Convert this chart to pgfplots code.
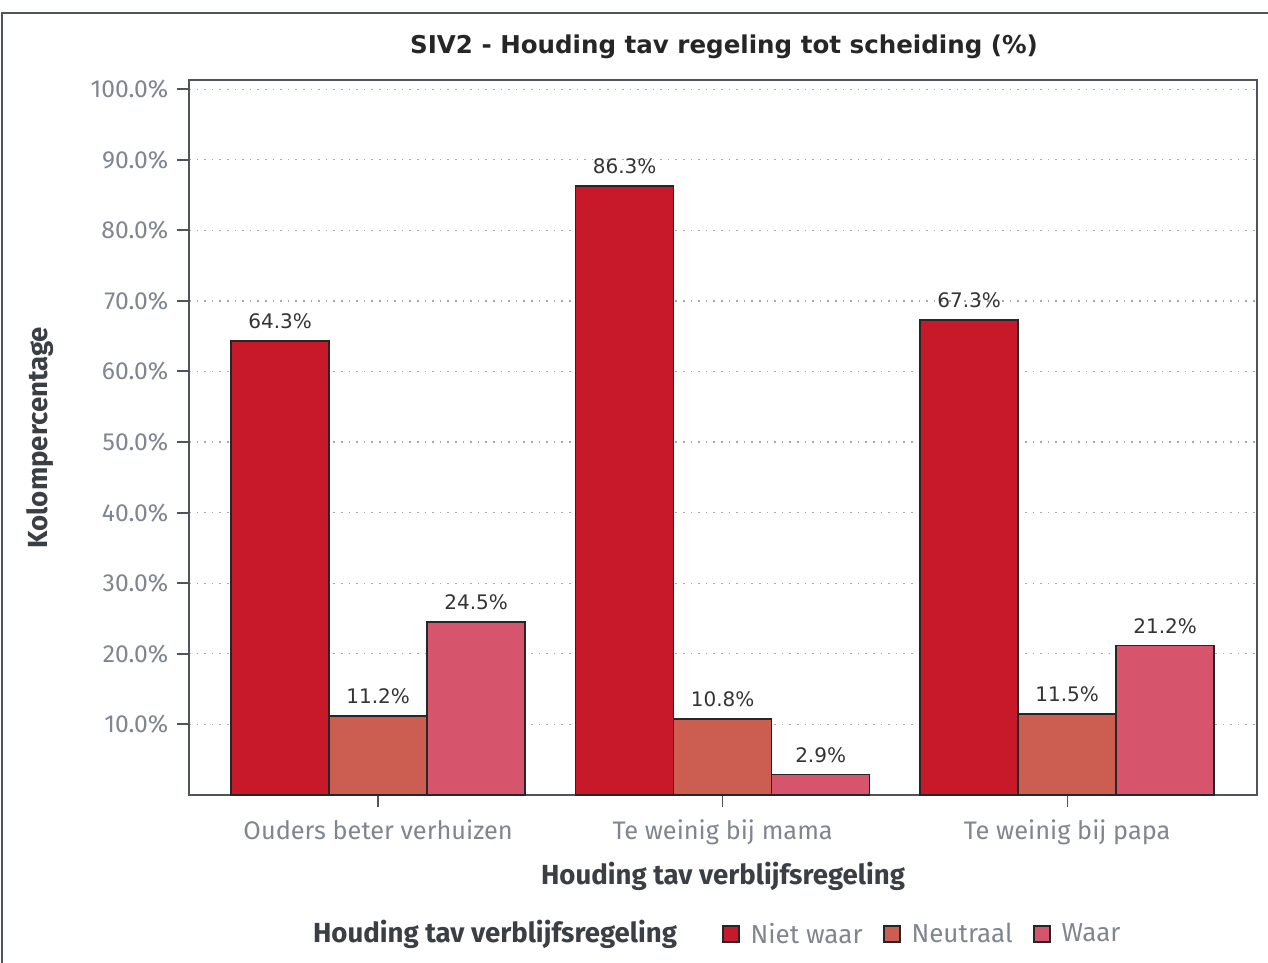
\documentclass[border=0pt]{standalone}
\usepackage{fontspec}
\setmainfont{Fira Sans}
\newfontfamily\dejavu{DejaVu Sans}
\usepackage{pgfplots}
\pgfplotsset{compat=1.18}
\definecolor{cNiet}{HTML}{C8192A}
\definecolor{cNeut}{HTML}{CB5E50}
\definecolor{cWaar}{HTML}{D6556C}
\definecolor{axisgray}{HTML}{50555C}
\definecolor{tickgray}{HTML}{80868F}
\definecolor{labgray}{HTML}{3A3F45}
\definecolor{gridgray}{HTML}{A8A8A8}
\begin{document}
\begin{tikzpicture}
\useasboundingbox (0,0) rectangle (951pt,722.25pt);
\draw[axisgray, line width=1.5pt] (1.5pt,0) -- (1.5pt,712.5pt) -- (951pt,712.5pt);
\node[font=\dejavu\fontsize{18.4}{21}\selectfont\bfseries, text=black!85] at (543pt,687pt) {SIV2 - Houding tav regeling tot scheiding (\%)};
\begin{axis}[
  at={(141.75pt,126pt)}, anchor=south west,
  scale only axis, width=801pt, height=536.25pt,
  ybar=0pt, bar width=73.5pt,
  xmin=-0.549, xmax=2.551, ymin=0, ymax=101.3,
  xtick={0,1,2},
  xticklabels={Ouders beter verhuizen, Te weinig bij mama, Te weinig bij papa},
  ytick={10,20,30,40,50,60,70,80,90,100},
  yticklabels={10.0\%,20.0\%,30.0\%,40.0\%,50.0\%,60.0\%,70.0\%,80.0\%,90.0\%,100.0\%},
  xtick pos=bottom, ytick pos=left,
  tick align=outside, major tick length=9pt,
  xtick style={axisgray, line width=1pt}, ytick style={axisgray, line width=1.5pt},
  axis line style={axisgray, line width=1.2pt},
  ymajorgrids, major grid style={gridgray, line width=0.9pt, dash pattern=on 1.2pt off 4.5pt},
  xticklabel style={font=\fontsize{19}{22}\selectfont, text=tickgray, yshift=-6pt},
  yticklabel style={font=\fontsize{18.5}{22}\selectfont, text=tickgray, xshift=-3pt},
  xlabel={Houding tav verblijfsregeling},
  ylabel={Kolompercentage},
  label style={font=\fontsize{20.7}{24}\selectfont\bfseries, text=labgray},
  xlabel style={at={(axis description cs:0.5,-0.1133)}, anchor=center},
  ylabel style={at={(axis description cs:-0.1395,0.5)}, anchor=center},
  /pgf/number format/assume math mode=true,
  nodes near coords={\pgfmathprintnumber[fixed,fixed zerofill,precision=1]{\pgfplotspointmeta}\%},
  nodes near coords style={font=\dejavu\fontsize{15}{18}\selectfont, text=black!80, yshift=5pt},
  every axis plot/.append style={draw=black!85, line width=1.2pt},
  legend image code/.code={\draw[#1, line width=1.2pt] (0pt,-6pt) rectangle (12pt,6pt);},
  legend columns=-1,
  legend style={at={(axis description cs:0.4991,-0.1944)}, anchor=west, draw=none, fill=none,
    inner sep=0pt, font=\fontsize{19.5}{22}\selectfont, text=tickgray,
    nodes={inner sep=0pt},
    /tikz/every odd column/.append style={column sep=8pt},
    /tikz/every even column/.append style={column sep=15.5pt}},
  clip=false,
]
\addplot[fill=cNiet] coordinates {(0,64.3) (1,86.3) (2,67.3)};
\addplot[fill=cNeut] coordinates {(0,11.2) (1,10.8) (2,11.5)};
\addplot[fill=cWaar] coordinates {(0,24.5) (1,2.9) (2,21.2)};
\legend{Niet waar, Neutraal, Waar}
\node[font=\fontsize{20.7}{24}\selectfont\bfseries, text=labgray] at (axis description cs:0.2865,-0.1944) {Houding tav verblijfsregeling};
\end{axis}
\end{tikzpicture}
\end{document}
